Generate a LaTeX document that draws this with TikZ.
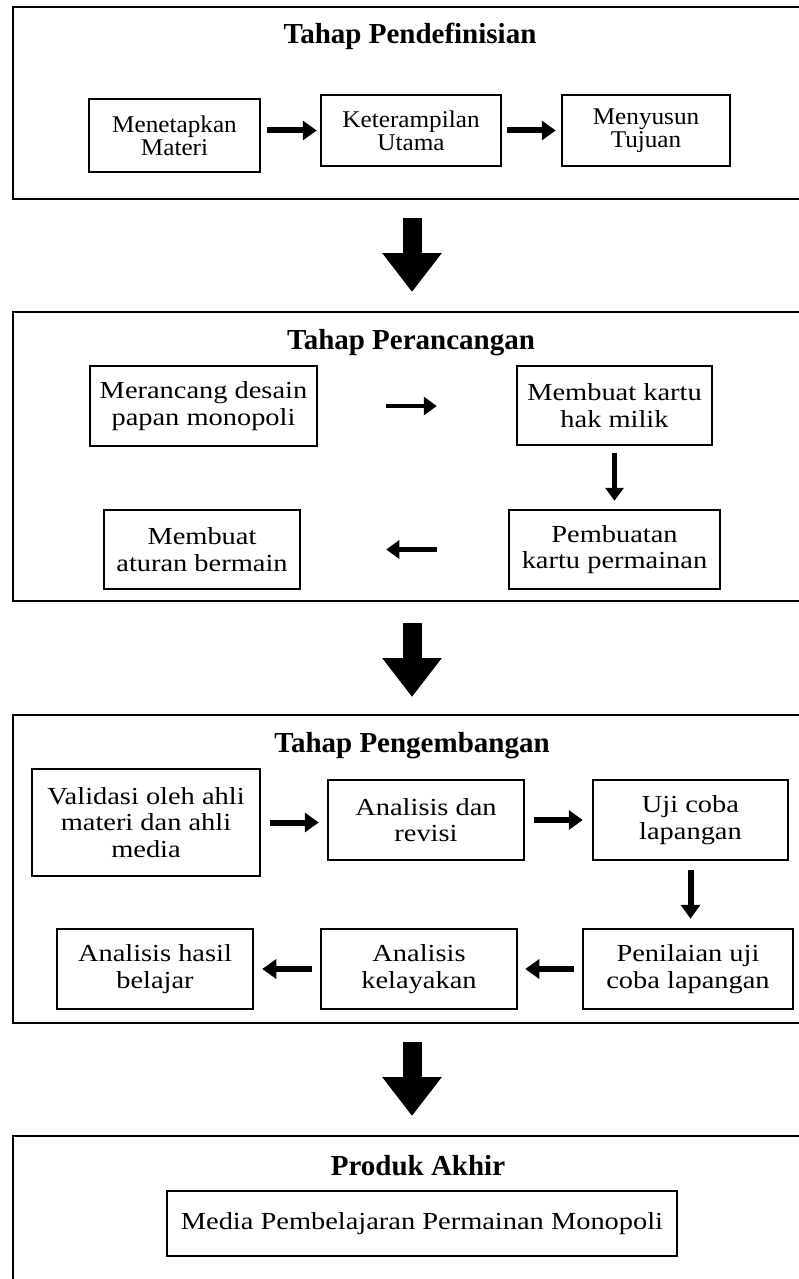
\documentclass[tikz,border=0pt]{standalone}
\usepackage{fontspec}
\setmainfont{Liberation Serif}
\newfontfamily\bodyfont[FakeStretch=1.16]{Liberation Serif}
\newfontfamily\afont[FakeStretch=1.05]{Liberation Serif}
\usetikzlibrary{arrows.meta}
\begin{document}
\begin{tikzpicture}[x=1pt,y=-1pt,
  stage/.style={draw, line width=2pt, inner sep=0pt, minimum width=798pt},
  title/.style={anchor=base, inner sep=0pt, font={\fontsize{29}{34}\selectfont\bfseries}},
  box/.style={draw, line width=2.5pt, inner sep=0pt, align=center,
    font={\bodyfont\fontsize{24.5}{26.5}\selectfont}},
  abox/.style={box, font={\afont\fontsize{24}{23}\selectfont}},
  conn/.style={line width=6pt, -{Triangle[length=14pt,width=19pt]}},
  thinconn/.style={line width=4.5pt, -{Triangle[length=13pt,width=18pt]}},
  bigarrow/.style={line width=19pt, -{Triangle[length=39pt,width=57pt]}, shorten <=18pt, shorten >=19pt}
]
\useasboundingbox (0,0) rectangle (798,1279);

% stage frames
\node[stage, minimum height=191pt] (S1) at (412,103) {};
\node[stage, minimum height=289pt] (S2) at (412,456.5) {};
\node[stage, minimum height=308pt] (S3) at (412,869) {};
\node[stage, minimum height=164pt] (S4) at (412,1218) {};

% titles
\node[title] (T1) at (410,44) {Tahap Pendefinisian};
\node[title] (T2) at (411,349) {Tahap Perancangan};
\node[title] (T3) at (412,752) {Tahap Pengembangan};
\node[title] (T4) at (418,1175) {Produk Akhir};

% stage 1
\node[abox, minimum width=171pt, minimum height=73pt] (A1) at (174.5,135.5) {Menetapkan\\Materi};
\node[abox, minimum width=180pt, minimum height=71pt] (A2) at (411,130.5) {Keterampilan\\Utama};
\node[abox, minimum width=168pt, minimum height=71pt] (A3) at (646,130.5) {Menyusun\\Tujuan};
\draw[conn, shorten <=6pt, shorten >=3pt] (A1.east |- A2.west) -- (A2.west);
\draw[conn, shorten <=5pt, shorten >=5pt] (A2.east) -- (A3.west);

% stage 2
\node[box, minimum width=227pt, minimum height=80pt] (B1) at (203.5,406) {Merancang desain\\papan monopoli};
\node[box, minimum width=195pt, minimum height=79pt] (B2) at (614.5,405.5) {Membuat kartu\\hak milik};
\node[box, minimum width=211pt, minimum height=79pt] (B3) at (614.5,549.5) {Pembuatan\\kartu permainan};
\node[box, minimum width=196pt, minimum height=79pt] (B4) at (202,549.5) {Membuat\\aturan bermain};
\draw[thinconn, shorten <=68pt, shorten >=79pt] (B1.east) -- (B1.east -| B2.west);
\draw[thinconn, shorten <=7pt, shorten >=8pt] (B2.south) -- (B3.north);
\draw[thinconn, shorten <=71pt, shorten >=85pt] (B3.west) -- (B4.east);

% stage 3
\node[box, minimum width=228pt, minimum height=107pt] (C1) at (146,822.5) {Validasi oleh ahli\\materi dan ahli\\media};
\node[box, minimum width=196pt, minimum height=80pt] (C2) at (426,820) {Analisis dan\\revisi};
\node[box, minimum width=195pt, minimum height=80pt] (C3) at (690.5,820) {Uji coba\\lapangan};
\node[box, minimum width=210pt, minimum height=80pt] (C4) at (688,969) {Penilaian uji\\coba lapangan};
\node[box, minimum width=196pt, minimum height=80pt] (C5) at (419,969) {Analisis\\kelayakan};
\node[box, minimum width=196pt, minimum height=80pt] (C6) at (155,969) {Analisis hasil\\belajar};
\draw[conn, shorten <=9pt, shorten >=8pt] (C1.east) -- (C1.east -| C2.west);
\draw[conn, shorten <=9pt, shorten >=9pt] (C2.east) -- (C3.west);
\draw[conn, shorten <=9pt, shorten >=9pt] (C3.south) -- (C3.south |- C4.north);
\draw[conn, shorten <=8pt, shorten >=7pt] (C4.west) -- (C5.east);
\draw[conn, shorten <=8pt, shorten >=8pt] (C5.west) -- (C6.east);

% stage 4
\node[box, minimum width=510pt, minimum height=65pt] (D1) at (422,1223.5) {Media Pembelajaran Permainan Monopoli};

% big arrows between stages
\draw[bigarrow] (S1.south) -- (S2.north);
\draw[bigarrow, shorten <=21pt, shorten >=17pt] (S2.south) -- (S3.north);
\draw[bigarrow] (S3.south) -- (S4.north);
\end{tikzpicture}
\end{document}
